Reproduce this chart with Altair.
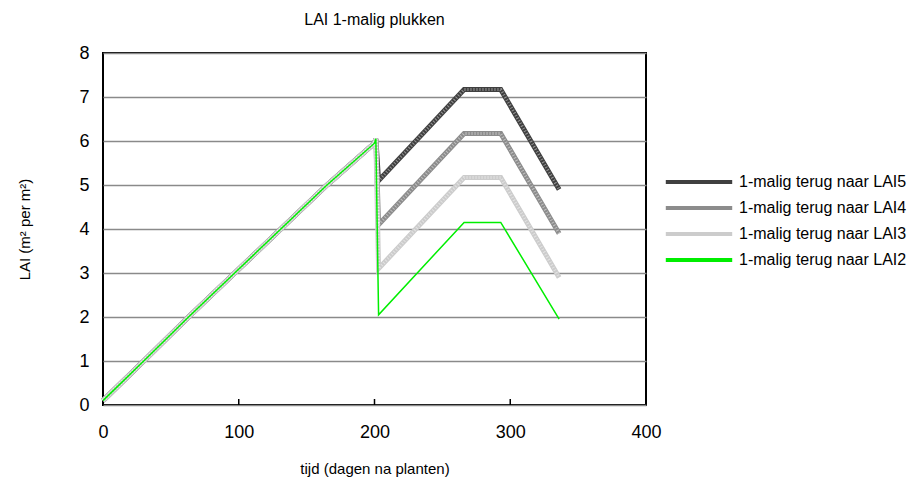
import altair as alt
import pandas as pd

# Shared growth phase (all series identical until harvest)
grow_x = [0, 30, 63, 97, 131, 165, 200, 201]
grow_y = [0.1, 1.0, 2.0, 3.0, 4.0, 5.0, 5.95, 6.05]

series_names = ["1-malig terug naar LAI5", "1-malig terug naar LAI4",
                "1-malig terug naar LAI3", "1-malig terug naar LAI2"]
after_x = [203, 266, 293, 336]
after_y = {
    "1-malig terug naar LAI5": [5.1, 7.17, 7.17, 4.9],
    "1-malig terug naar LAI4": [4.1, 6.17, 6.17, 3.9],
    "1-malig terug naar LAI3": [3.1, 5.17, 5.17, 2.9],
    "1-malig terug naar LAI2": [2.05, 4.15, 4.15, 1.95],
}
colors = ["#404040", "#8c8c8c", "#cccccc", "#00ee00"]

x_ticks = [0, 100, 200, 300, 400]

rows = []
for s in series_names:
    i = 0
    for xv, yv in zip(grow_x, grow_y):
        rows.append({"series": s, "x": xv, "y": yv, "i": i}); i += 1
    for xv, yv in zip(after_x, after_y[s]):
        rows.append({"series": s, "x": xv, "y": yv, "i": i}); i += 1
df = pd.DataFrame(rows)

FONT = "Liberation Sans"
FS = 16
W, H = 543, 352

xs = alt.Scale(domain=[0, 400], nice=False)
ys = alt.Scale(domain=[0, 8], nice=False)

color = alt.Color("series:N", sort=series_names,
                  scale=alt.Scale(domain=series_names, range=colors),
                  legend=alt.Legend(title=None, orient="none", legendX=578, legendY=111,
                                    symbolType="M-2.1,0H2.1", symbolSize=1000,
                                    symbolStrokeWidth=4, symbolFillColor="transparent",
                                    labelFontSize=FS, labelFont=FONT, rowPadding=0,
                                    labelColor="#000", labelOffset=22, labelLimit=0))

base = alt.Chart(df).encode(
    x=alt.X("x:Q", scale=xs, axis=alt.Axis(values=x_ticks, title="tijd (dagen na planten)",
                                           grid=False, tickSize=0, labelPadding=18,
                                           titlePadding=20, domain=False, labelFlush=False,
                                           labelFontSize=18)),
    y=alt.Y("y:Q", scale=ys, axis=alt.Axis(values=list(range(9)), title="LAI (m² per m²)",
                                           grid=True, gridColor="#8a8a8a", gridWidth=1.5,
                                           tickSize=0, labelPadding=14, titlePadding=46,
                                           domain=False, labelFontSize=18)),
    color=color,
    order=alt.Order("i:Q"),
    detail="series:N",
)

thick = base.transform_filter(alt.datum.series != series_names[3]).mark_line(
    strokeWidth=5, strokeJoin="miter")
texture = base.transform_filter(alt.datum.series != series_names[3]).mark_line(
    strokeWidth=3, strokeDash=[1, 2], opacity=0.45, strokeJoin="miter"
).encode(color=alt.value("#ffffff"))
thin = base.transform_filter(alt.datum.series == series_names[3]).mark_line(
    strokeWidth=1.5, strokeJoin="miter")

tick_df = pd.DataFrame({"x": x_ticks[1:-1]})
ticks = alt.Chart(tick_df).mark_rule(color="black", strokeWidth=1.5).encode(
    x=alt.X("x:Q", scale=xs), y=alt.value(H), y2=alt.value(H - 6))

chart = alt.layer(thick, texture, thin, ticks).properties(
    width=W, height=H,
    background="white",
    title=alt.Title("LAI 1-malig plukken", fontSize=FS, font=FONT, fontWeight="normal",
                    offset=16, color="#000"),
    autosize=alt.AutoSizeParams(type="none"),
    padding={"left": 95, "top": 45, "right": 270, "bottom": 80},
).configure_view(stroke="black", strokeWidth=2).configure_axis(
    labelFont=FONT, titleFont=FONT, titleFontSize=FS - 1,
    titleFontWeight="normal", labelColor="#000", titleColor="#000",
)

chart.save("out.html", embed_options={"renderer": "svg", "actions": False})
